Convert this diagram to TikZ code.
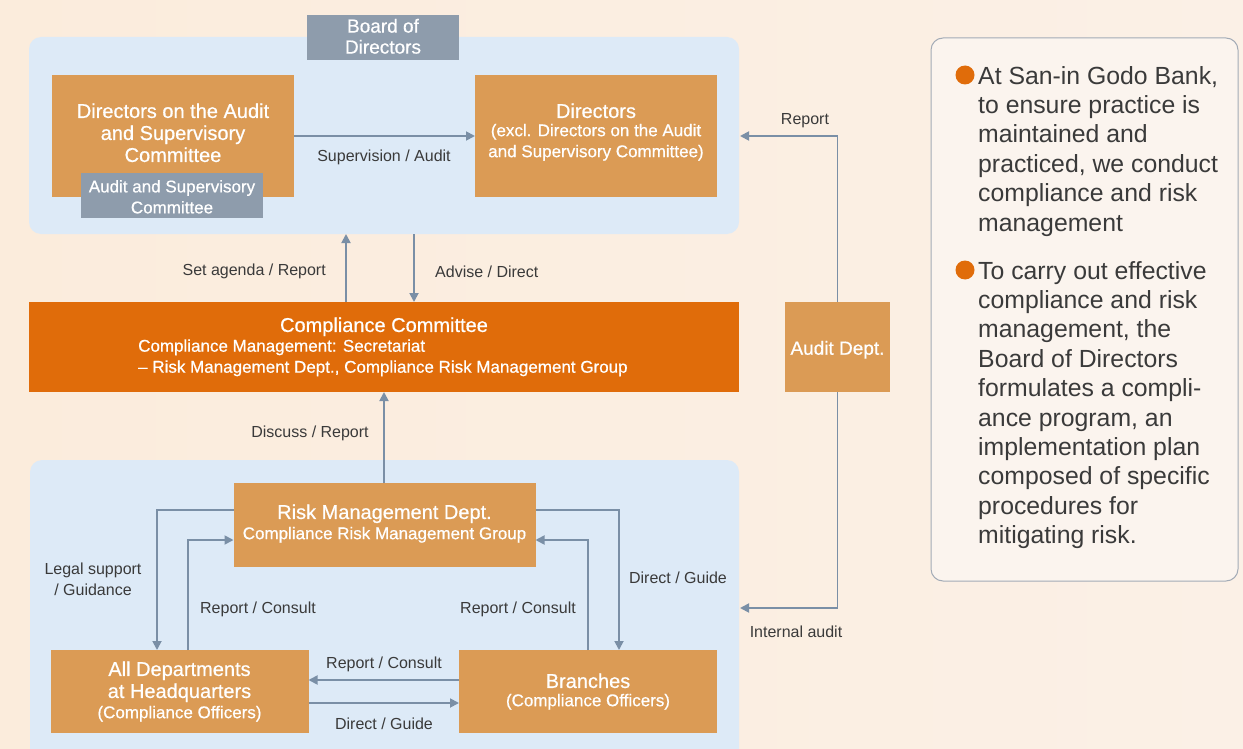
\documentclass[tikz,border=0pt]{standalone}
\usepackage{fontspec}
\setmainfont{Liberation Sans}
\newfontfamily\boxfont[FakeBold=0.6]{Liberation Sans}
\usetikzlibrary{arrows.meta}
\definecolor{bgL}{HTML}{FBECDC}
\definecolor{bgR}{HTML}{FBF0E6}
\definecolor{paleblue}{HTML}{DDEAF7}
\definecolor{tan}{HTML}{DB9B55}
\definecolor{slate}{HTML}{8E9CAC}
\definecolor{deeporange}{HTML}{E06C0A}
\definecolor{arrowc}{HTML}{7A8FA6}
\definecolor{labelc}{HTML}{3A3A3A}
\definecolor{panelfill}{HTML}{FBF4EE}
\definecolor{panelline}{HTML}{A3ABB6}
\begin{document}
\begin{tikzpicture}[x=1pt,y=-1pt,
  box/.style={inner sep=0pt,outer sep=0pt,draw=none},
  tanbox/.style={box,fill=tan},
  graybox/.style={box,fill=slate},
  wt/.style={text=white,inner sep=0pt,align=center,yshift=-0.8pt},
  f20/.style={font=\boxfont\fontsize{20}{22}\selectfont},
  f19/.style={font=\boxfont\fontsize{19}{21}\selectfont},
  f17/.style={font=\boxfont\fontsize{17}{21}\selectfont},
  lbl/.style={text=labelc,inner sep=0pt,align=center,yshift=-1.8pt,font=\fontsize{16}{21}\selectfont},
  arr/.style={draw=arrowc,line width=1.8pt,-{Triangle[length=9pt,width=9pt]}},
  body/.style={text=labelc,inner sep=0pt,align=left,anchor=north west,
    font=\fontsize{24.8}{29.4}\selectfont}]
\useasboundingbox (0,0) rectangle (1243,749);
\clip (0,0) rectangle (1243,749);
\shade[left color=bgL,right color=bgR] (0,0) rectangle (1243,749);

% containers
\node[box,fill=paleblue,rounded corners=12pt,minimum width=710pt,minimum height=197pt] (topbox) at (384,135.5) {};
\node[box,fill=paleblue,rounded corners=12pt,minimum width=709pt,minimum height=330pt] (botbox) at (384.5,625) {};

% board of directors
\node[graybox,minimum width=152pt,minimum height=45pt] (board) at (383,37.5) {};
\node[wt,f19] at (383,35.5) {Board of\\Directors};

% directors on the audit and supervisory committee
\node[tanbox,minimum width=242pt,minimum height=122pt] (acb) at (173,136) {};
\node[wt,f20] at (173,132) {Directors on the Audit\\and Supervisory\\Committee};
\node[graybox,minimum width=182pt,minimum height=45pt] (asc) at (172,195.5) {};
\node[wt,f17] at (172,196) {Audit and Supervisory\\Committee};

% directors
\node[tanbox,minimum width=242pt,minimum height=122pt] (dir) at (596,136) {};
\node[wt,f20] at (596,110) {Directors};
\node[wt,f17] at (596,141.5) {(excl. Directors on the Audit\\and Supervisory Committee)};

\draw[arr] (acb.east) -- (dir.west);
\node[lbl] at (384,156) {Supervision / Audit};

% compliance committee
\node[box,fill=deeporange,minimum width=710pt,minimum height=90pt] (cc) at (384,347) {};
\node[wt,f20] at (384,326) {Compliance Committee};
\node[wt,f17,align=left,anchor=west] at (138,357) {Compliance Management: Secretariat\\– Risk Management Dept., Compliance Risk Management Group};

\draw[arr] (cc.north -| 346,0) -- (topbox.south -| 346,0);
\draw[arr] (topbox.south -| 414,0) -- (cc.north -| 414,0);
\node[lbl,anchor=east] at (326,270) {Set agenda / Report};
\node[lbl,anchor=west] at (435,270) {Advise / Direct};

% audit department
\node[tanbox,minimum width=105pt,minimum height=90pt] (audit) at (837.5,347) {};
\node[wt,f19] at (837.5,349) {Audit Dept.};
\coordinate (rep) at (740,136);
\coordinate (ia) at (740,608);
\draw[arr] (audit.north) |- (rep);
\draw[arr] (audit.south) |- (ia);
\node[lbl] at (805,119) {Report};
\node[lbl] at (796,630) {Internal audit};

% risk management department
\node[tanbox,minimum width=302pt,minimum height=84pt] (risk) at (384.5,525) {};
\node[wt,f20] at (384.5,513) {Risk Management Dept.};
\node[wt,f17] at (384.5,534) {Compliance Risk Management Group};
\draw[arr] (risk.north -| 384,0) -- (cc.south -| 384,0);
\node[lbl] at (310,432) {Discuss / Report};

% headquarters departments and branches
\node[tanbox,minimum width=258pt,minimum height=83pt] (hq) at (179.5,691.5) {};
\node[wt,f20] at (179.5,681) {All Departments\\at Headquarters};
\node[wt,f17] at (179.5,713) {(Compliance Officers)};
\node[tanbox,minimum width=258pt,minimum height=83pt] (br) at (588,691.5) {};
\node[wt,f20] at (588,680) {Branches};
\node[wt,f17] at (588,701) {(Compliance Officers)};

\draw[arr] (risk.west |- 0,510) -| (hq.north -| 157,0);
\draw[arr] (hq.north -| 188,0) |- (risk.west |- 0,540);
\draw[arr] (risk.east |- 0,510) -| (br.north -| 619,0);
\draw[arr] (br.north -| 588,0) |- (risk.east |- 0,540);
\draw[arr] (br.west |- 0,680) -- (hq.east |- 0,680);
\draw[arr] (hq.east |- 0,703) -- (br.west |- 0,703);

\node[lbl] at (93,577.5) {Legal support\\/ Guidance};
\node[lbl] at (258,608) {Report / Consult};
\node[lbl] at (518,608) {Report / Consult};
\node[lbl] at (678,576) {Direct / Guide};
\node[lbl] at (384,663) {Report / Consult};
\node[lbl] at (384,722) {Direct / Guide};

% explanatory panel
\node[box,fill=panelfill,draw=panelline,line width=1pt,rounded corners=12pt,
  minimum width=307pt,minimum height=543pt] (panel) at (1084.5,309.5) {};
\fill[deeporange] (965,75) circle (9.5pt);
\fill[deeporange] (965,270) circle (9.5pt);
\node[body] (p1) at (978,66) {At San-in Godo Bank,\\to ensure practice is\\maintained and\\practiced, we conduct\\compliance and risk\\management};
\node[body] (p2) at (978,261) {To carry out effective\\compliance and risk\\management, the\\Board of Directors\\formulates a compli-\\ance program, an\\implementation plan\\composed of specific\\procedures for\\mitigating risk.};
\end{tikzpicture}
\end{document}
